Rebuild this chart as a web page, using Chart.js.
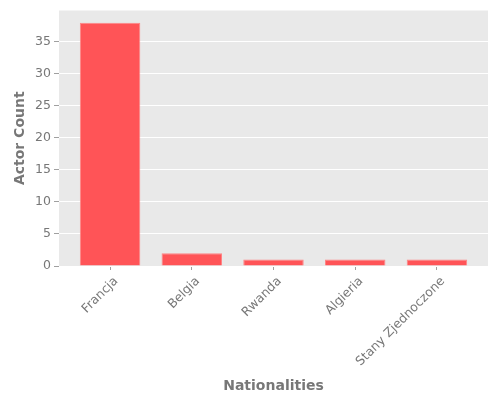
<!DOCTYPE html>
<html>
<head>
<meta charset="UTF-8">
<script src="https://cdn.jsdelivr.net/npm/chart.js@4/dist/chart.umd.min.js"></script>
<style>
html, body { margin:0; padding:0; background:#ffffff; }
#wrap { width:500px; height:400px; }
</style>
</head>
<body>
<div id="wrap"><canvas id="canvas"></canvas></div>
<script>
var nationalities = ['Francja', 'Belgia', 'Rwanda', 'Algieria', 'Stany Zjednoczone'];
var actorCounts = [38, 2, 1, 1, 1];
var yTickValues = [0, 5, 10, 15, 20, 25, 30, 35];

var GREY_TEXT = '#777777';
var TICK_LINE = '#a0a0a0';

// grey panel behind the plot, ggplot style
var panelBg = {
    id: 'panelBg',
    beforeDraw: function(chart) {
        var a = chart.chartArea, ctx = chart.ctx;
        ctx.save();
        ctx.fillStyle = '#e9e9e9';
        ctx.fillRect(a.left, a.top, a.right - a.left, a.bottom - a.top);
        ctx.restore();
    }
};

var points = nationalities.map(function(n, i) { return {x: i, y: actorCounts[i]}; });

new Chart(document.getElementById('canvas').getContext('2d'), {
    type: 'bar',
    data: {
        datasets: [{
            label: 'Actor Count',
            data: points,
            backgroundColor: '#ff5457',
            borderColor: '#ff8585',
            borderWidth: 1,
            barPercentage: 0.74,
            categoryPercentage: 1.0
        }]
    },
    options: {
        responsive: true,
        maintainAspectRatio: false,
        animation: false,
        layout: { padding: { top: 10, right: 12, left: 0, bottom: 0 } },
        plugins: { legend: { display: false }, tooltip: { enabled: false } },
        scales: {
            x: {
                type: 'linear',
                offset: false,
                min: -0.625,
                max: 4.625,
                afterBuildTicks: function(scale) {
                    scale.ticks = nationalities.map(function(n, i) { return {value: i}; });
                },
                afterFit: function(scale) { scale.height = 134; },
                border: { display: false },
                grid: { offset: false, drawOnChartArea: false, tickColor: TICK_LINE, tickLength: 4 },
                ticks: {
                    autoSkip: false,
                    maxRotation: 45,
                    minRotation: 45,
                    padding: 4,
                    labelOffset: 6,
                    color: GREY_TEXT,
                    font: { family: 'DejaVu Sans', size: 12.5 },
                    callback: function(v) { return nationalities[v]; }
                },
                title: {
                    display: true,
                    text: 'Nationalities',
                    color: GREY_TEXT,
                    font: { family: 'DejaVu Sans', size: 14, weight: 'bold' },
                    padding: { top: 0, bottom: 5 }
                }
            },
            y: {
                min: 0,
                max: 39.9,
                afterBuildTicks: function(scale) {
                    scale.ticks = yTickValues.map(function(v) { return {value: v}; });
                },
                afterFit: function(scale) { scale.width = 59; },
                border: { display: false },
                grid: { color: '#ffffff', lineWidth: 1, tickColor: TICK_LINE, tickLength: 5 },
                ticks: {
                    padding: 3,
                    color: GREY_TEXT,
                    font: { family: 'DejaVu Sans', size: 12.5 }
                },
                title: {
                    display: true,
                    text: 'Actor Count',
                    color: GREY_TEXT,
                    font: { family: 'DejaVu Sans', size: 14, weight: 'bold' },
                    padding: { top: 12, bottom: 0 }
                }
            }
        }
    },
    plugins: [panelBg]
});
</script>
</body>
</html>
